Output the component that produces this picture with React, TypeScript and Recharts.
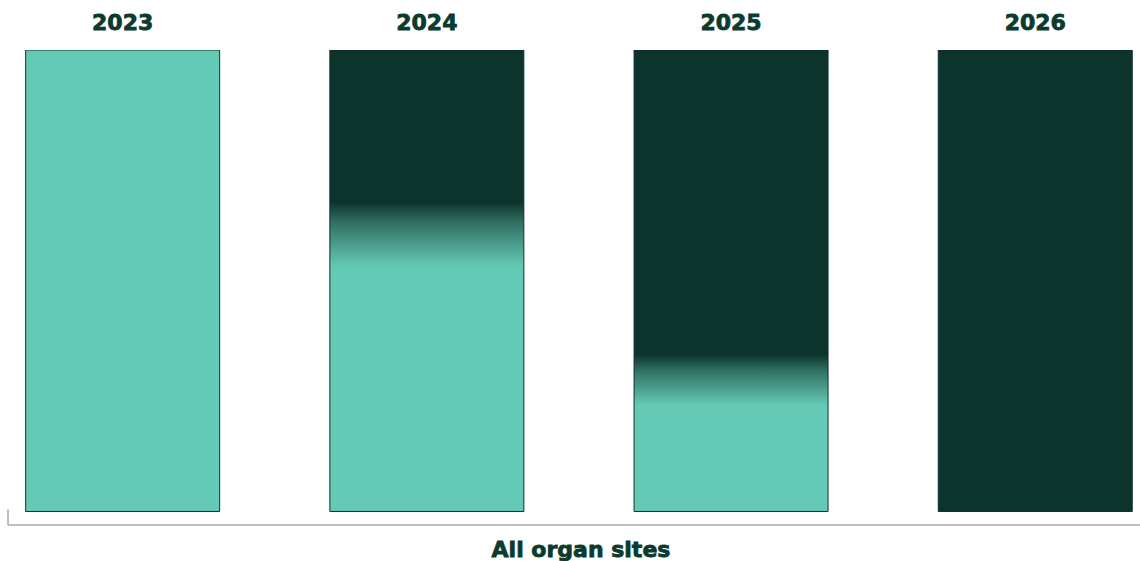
import { Bar, BarChart, Cell, LabelList, ReferenceLine, XAxis, YAxis } from "recharts";

// categories and series
const years = ["2023", "2024", "2025", "2026"];
const totals = [1, 1, 1, 1];
// share of each bar (from the top) that is dark, and where the fade ends
const fadeStart = [0, 0.33, 0.66, 1];
const fadeEnd = [0, 0.47, 0.77, 1];
const axisLabel = "All organ sites";

const DARK = "#0c342c";
const LIGHT = "#65cab5";
const MID = "#2f6e60";
const TEXT = "#0b3a2e";
const FONT = "'DejaVu Sans', sans-serif";

const data = years.map((year, i) => ({
  idx: i,
  year,
  total: totals[i],
}));

const AxisTitle = (props: any) => {
  const vb = props.viewBox || {};
  return (
    <text
      x={vb.x + vb.width / 2 + 7}
      y={557}
      textAnchor="middle"
      fontFamily={FONT}
      fontWeight="bold"
      fontSize={22}
      fill={TEXT}
      stroke={TEXT}
      strokeWidth={0.8}
    >
      {axisLabel}
    </text>
  );
};

export default function App() {
  return (
    <div style={{ position: "absolute", left: 0, top: 0, width: 1140, height: 561 }}>
      <BarChart
        width={1140}
        height={561}
        data={data}
        margin={{ top: 50, right: 0, left: 8, bottom: 0 }}
      >
        <defs>
          {years.map((y, i) => {
            const s = fadeStart[i];
            const e = fadeEnd[i];
            if (e === 0) {
              return (
                <linearGradient key={y} id={`fill-${i}`} x1="0" y1="0" x2="0" y2="1">
                  <stop offset={0} stopColor={LIGHT} />
                  <stop offset={1} stopColor={LIGHT} />
                </linearGradient>
              );
            }
            if (s === 1) {
              return (
                <linearGradient key={y} id={`fill-${i}`} x1="0" y1="0" x2="0" y2="1">
                  <stop offset={0} stopColor={DARK} />
                  <stop offset={1} stopColor={DARK} />
                </linearGradient>
              );
            }
            return (
              <linearGradient key={y} id={`fill-${i}`} x1="0" y1="0" x2="0" y2="1">
                <stop offset={s} stopColor={DARK} />
                <stop offset={s + (e - s) * 0.3} stopColor={MID} />
                <stop offset={e} stopColor={LIGHT} />
              </linearGradient>
            );
          })}
        </defs>
        <XAxis
          type="number"
          dataKey="idx"
          domain={[-0.3772, 3.344]}
          allowDataOverflow
          tick={false}
          tickLine={false}
          height={36}
          axisLine={{ stroke: "#aaaaaa", strokeWidth: 1.5 }}
          label={<AxisTitle />}
        />
        <YAxis hide domain={[-0.0293, 1]} allowDataOverflow />
        <ReferenceLine
          segment={[
            { x: -0.3772, y: -0.0293 },
            { x: -0.3772, y: 0.005 },
          ]}
          stroke="#aaaaaa"
          strokeWidth={1.5}
          ifOverflow="visible"
        />
        <Bar
          dataKey="total"
          barSize={194}
          stroke={DARK}
          strokeWidth={1}
          isAnimationActive={false}
        >
          {data.map((d, i) => (
            <Cell key={d.year} fill={`url(#fill-${i})`} />
          ))}
          <LabelList
            dataKey="year"
            position="top"
            offset={20}
            fontFamily={FONT}
            fontWeight="bold"
            fontSize={22}
            fill={TEXT}
            stroke={TEXT}
            strokeWidth={0.8}
          />
        </Bar>
      </BarChart>
    </div>
  );
}
